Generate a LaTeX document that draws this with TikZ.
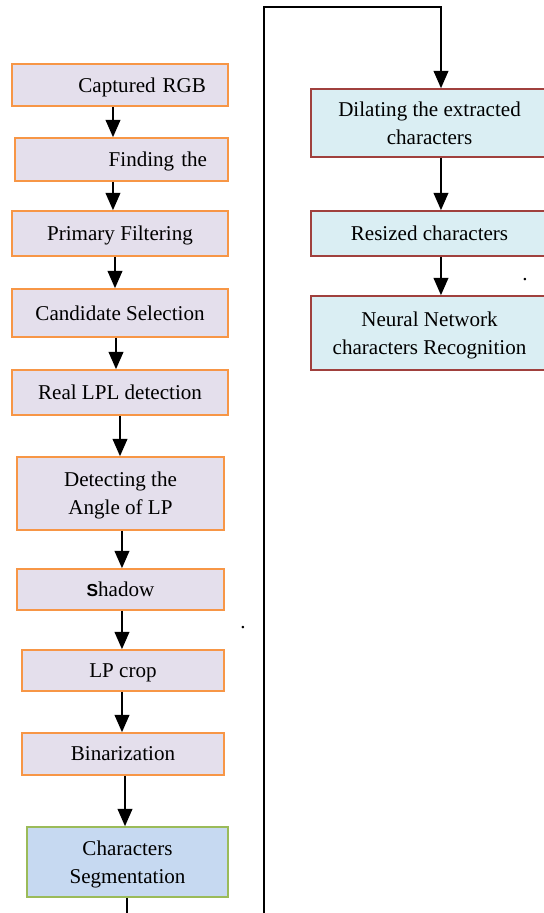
\documentclass[tikz,border=0pt]{standalone}
\usepackage{fontspec}
\setmainfont{Liberation Serif}
\setsansfont{Liberation Sans}
\usepackage{tikz}
\usetikzlibrary{arrows.meta}

\definecolor{lav}{HTML}{E4DFEC}
\definecolor{orng}{HTML}{F79646}
\definecolor{pale}{HTML}{DAEEF3}
\definecolor{brick}{HTML}{A0403D}
\definecolor{segfill}{HTML}{C6D9F1}
\definecolor{segline}{HTML}{9BBB59}

\begin{document}
\begin{tikzpicture}
[x=0.75pt,y=-0.75pt
,box/.style={rectangle,draw,line width=1.2pt,align=center,inner sep=2pt,text depth=0pt,
  font=\fontsize{15.8}{21}\selectfont}
,lbox/.style={box,draw=orng,fill=lav}
,rbox/.style={box,draw=brick,fill=pale}
,sbox/.style={box,draw=segline,fill=segfill}
,ar/.style={draw=black,line width=1.4pt,arrows={-Triangle[length=13pt,width=11pt]}}
,ln/.style={draw=black,line width=1.4pt}]
\useasboundingbox (0,0) rectangle (543,913);
% left column
\node[lbox,minimum width=162pt,minimum height=31.5pt,text width=129pt,inner xsep=16.5pt,align=right] (cap) at (120,85) {Captured RGB};
\node[lbox,minimum width=159.75pt,minimum height=32.25pt,text width=128.25pt,inner xsep=15.75pt,align=right] (find) at (121.5,159.5) {Finding the};
\node[lbox,minimum width=162pt,minimum height=33.75pt] (prim) at (120,233.5) {Primary Filtering};
\node[lbox,minimum width=162pt,minimum height=36pt] (cand) at (120,313) {Candidate Selection};
\node[lbox,minimum width=162pt,minimum height=33.75pt] (real) at (120,392.5) {Real LPL detection};
\node[lbox,minimum width=155.25pt,minimum height=54.75pt] (angle) at (120.5,493.5) {Detecting the\\Angle of LP};
\node[lbox,minimum width=155.25pt,minimum height=30.75pt] (shadow) at (120.5,589.5) {{\sffamily\bfseries\fontsize{13}{15}\selectfont S}hadow};
\node[lbox,minimum width=151.5pt,minimum height=30.75pt] (crop) at (123,670.5) {LP crop};
\node[lbox,minimum width=151.5pt,minimum height=31.5pt] (bin) at (123,754) {Binarization};
\node[sbox,minimum width=150.75pt,minimum height=52.5pt] (seg) at (127.5,862) {Characters\\Segmentation};
% right column
\node[rbox,minimum width=177.75pt,minimum height=51pt] (dil) at (429.5,123) {Dilating the extracted\\characters};
\node[rbox,minimum width=177.75pt,minimum height=33.75pt] (res) at (429.5,233.5) {Resized characters};
\node[rbox,minimum width=177.75pt,minimum height=55.5pt] (nn) at (429.5,333) {Neural Network\\characters Recognition};
% stray dots
\node[inner sep=0pt,anchor=base,font=\fontsize{15.8}{21}\selectfont] (dotA) at (243,628) {.};
\node[inner sep=0pt,anchor=base,font=\fontsize{15.8}{21}\selectfont] (dotB) at (525,280) {.};
% links
\coordinate (bot) at (127,913);
\coordinate (lpA) at (264,913);
\coordinate (lpB) at (264,7);
\coordinate (lpC) at (441,7);
\draw[ar] ([xshift=-5.25pt]cap.south) -- ([xshift=-5.25pt]cap.south |- find.north);
\draw[ar] ([xshift=-6.4pt]find.south) -- ([xshift=-6.4pt]find.south |- prim.north);
\draw[ar] ([xshift=-3.75pt]prim.south) -- ([xshift=-3.75pt]prim.south |- cand.north);
\draw[ar] ([xshift=-3pt]cand.south) -- ([xshift=-3pt]cand.south |- real.north);
\draw[ar] (real.south) -- (real.south |- angle.north);
\draw[ar] ([xshift=1.1pt]angle.south) -- ([xshift=1.1pt]angle.south |- shadow.north);
\draw[ar] ([xshift=1.1pt]shadow.south) -- ([xshift=1.1pt]shadow.south |- crop.north);
\draw[ar] ([xshift=-0.75pt]crop.south) -- ([xshift=-0.75pt]crop.south |- bin.north);
\draw[ar] ([xshift=1.5pt]bin.south) -- ([xshift=1.5pt]bin.south |- seg.north);
\draw[ln] (seg.south -| bot) -- (bot);
\draw[ar] (lpA) -- (lpB) -- (lpC) -- (lpC |- dil.north);
\draw[ar] ([xshift=8.6pt]dil.south) -- ([xshift=8.6pt]dil.south |- res.north);
\draw[ar] ([xshift=8.6pt]res.south) -- ([xshift=8.6pt]res.south |- nn.north);
\end{tikzpicture}
\end{document}
